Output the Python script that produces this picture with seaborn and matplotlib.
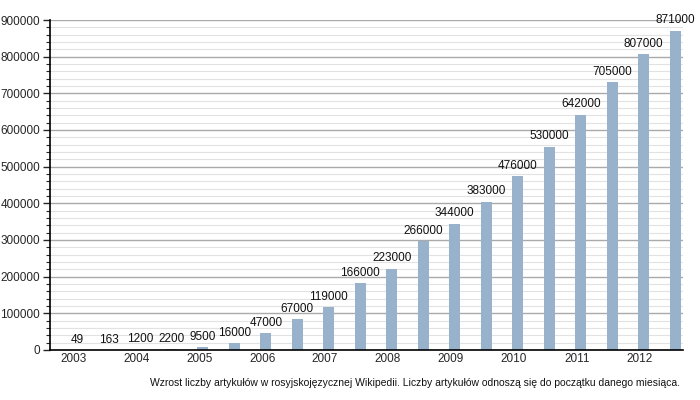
import pandas as pd
import seaborn as sns
import matplotlib.pyplot as plt
from matplotlib.ticker import MultipleLocator, FuncFormatter

# articles at the start of each half-year (Jan / Jul), 2003 - 2012
okresy = ["2003-01", "2003-07", "2004-01", "2004-07", "2005-01", "2005-07",
          "2006-01", "2006-07", "2007-01", "2007-07", "2008-01", "2008-07",
          "2009-01", "2009-07", "2010-01", "2010-07", "2011-01", "2011-07",
          "2012-01", "2012-07"]
artykuly = [49, 163, 1200, 3500, 8500, 20000, 47000, 85000, 118000, 183000,
            222000, 296000, 345000, 405000, 475000, 555000, 642000, 730000,
            806000, 871000]
etykiety = ["49", "163", "1200", "2200", "9500", "16000", "47000", "67000",
            "119000", "166000", "223000", "266000", "344000", "383000",
            "476000", "530000", "642000", "705000", "807000", "871000"]
lata = ["2003", "2004", "2005", "2006", "2007", "2008", "2009", "2010",
        "2011", "2012"]
podpis = ("Wzrost liczby artykułów w rosyjskojęzycznej Wikipedii. "
          "Liczby artykułów odnoszą się do początku danego miesiąca.")

sns.set_style("white")
plt.rcParams['font.family'] = ['Liberation Sans', 'DejaVu Sans']

df = pd.DataFrame({"okres": okresy, "artykuly": artykuly})

fig = plt.figure(figsize=(7, 4), dpi=100)
ax = fig.add_axes([50 / 700, 50 / 400, 633 / 700, 330 / 400])

sns.barplot(data=df, x="okres", y="artykuly", color="#98b2cc", width=0.35,
            saturation=1, linewidth=0, ax=ax)

for i, (v, txt) in enumerate(zip(artykuly, etykiety)):
    ax.annotate(txt, (i, v), xytext=(0, 3), textcoords="offset points",
                ha="center", va="bottom", fontsize=8.5, color="#111111")

ax.set_ylim(0, 900000)
ax.set_xlim(-0.86, len(okresy) - 0.75)
ax.yaxis.set_major_locator(MultipleLocator(100000))
ax.yaxis.set_minor_locator(MultipleLocator(20000))
ax.yaxis.set_major_formatter(FuncFormatter(lambda v, p: f"{int(v)}"))
ax.grid(axis="y", which="major", color="#aaaaaa", linewidth=1)
ax.grid(axis="y", which="minor", color="#e2e2e2", linewidth=0.8)
ax.set_axisbelow(True)

ax.set_xticks([2 * k - 0.12 for k in range(len(lata))])
ax.set_xticklabels(lata)
ax.tick_params(axis="x", length=0, pad=2.5, labelsize=8.5)
ax.tick_params(axis="y", which="major", length=5, width=1, direction="out",
               left=True, labelsize=8.5, pad=2)
ax.tick_params(axis="y", which="minor", length=3, width=0.8, direction="out",
               left=True)
ax.set_xlabel("")
ax.set_ylabel("")

for s in ["top", "right"]:
    ax.spines[s].set_visible(False)
for s in ["left", "bottom"]:
    ax.spines[s].set_color("black")
    ax.spines[s].set_linewidth(1.2)

fig.text(680 / 700, 1 - 383 / 400, podpis, ha="right", va="center",
         fontsize=7.5, color="#111111")

fig.savefig("out.png", dpi=100)
